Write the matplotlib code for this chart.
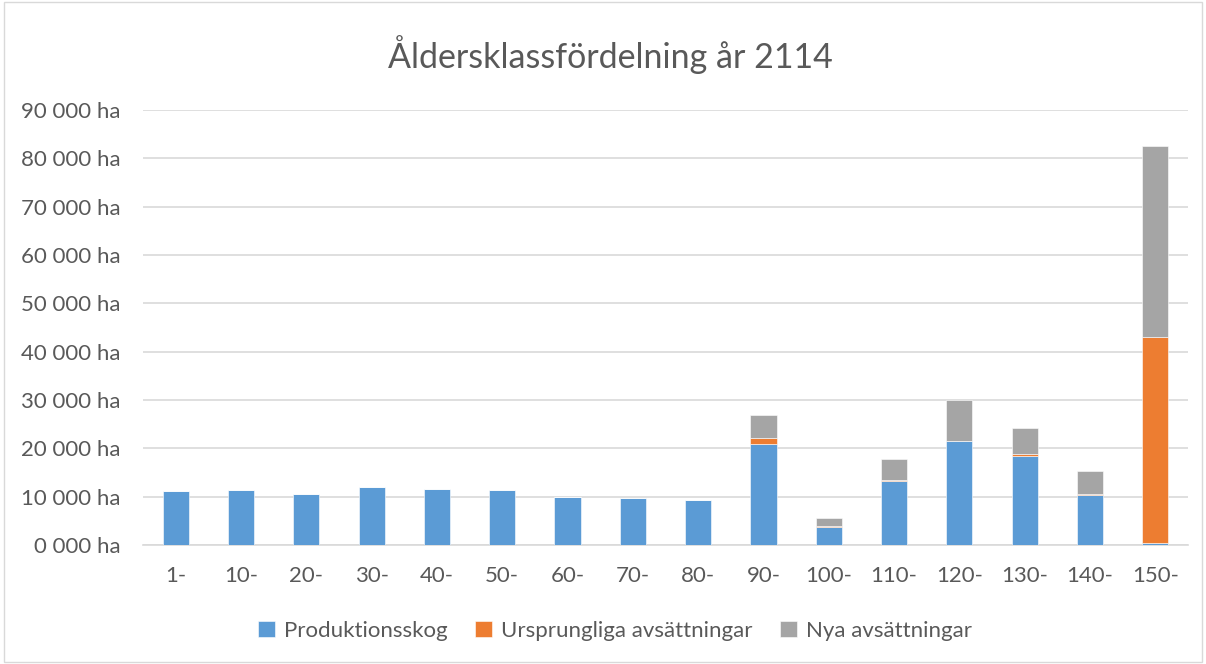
import matplotlib
matplotlib.use("Agg")
import matplotlib.pyplot as plt
from matplotlib.ticker import FuncFormatter, MultipleLocator
from matplotlib.patches import Rectangle
import numpy as np

categories = ["1-", "10-", "20-", "30-", "40-", "50-", "60-", "70-", "80-",
              "90-", "100-", "110-", "120-", "130-", "140-", "150-"]
produktion = [11100, 11400, 10500, 11900, 11600, 11300, 9900, 9800, 9400,
              20900, 3800, 13300, 21500, 18500, 10300, 400]
ursprungliga = [0, 0, 0, 0, 0, 0, 0, 0, 0,
                1300, 200, 200, 100, 300, 300, 42600]
nya = [0, 0, 0, 0, 0, 0, 0, 0, 0,
       4700, 1600, 4300, 8500, 5400, 4800, 39500]
series_names = ["Produktionsskog", "Ursprungliga avsättningar", "Nya avsättningar"]
colors = ["#5B9BD5", "#ED7D31", "#A5A5A5"]

plt.rcParams['font.family'] = ['Lato', 'DejaVu Sans']

fig = plt.figure(figsize=(12.06, 6.64), dpi=100)
ax = fig.add_axes([143/1206, 1-545/664, (1188-143)/1206, (545-110)/664])

x = np.arange(len(categories))
w = 0.4
p = np.array(produktion)
u = np.array(ursprungliga)
n = np.array(nya)
ax.bar(x, p, w, color=colors[0], label=series_names[0], edgecolor="white", linewidth=0.4, zorder=3)
ax.bar(x, u, w, bottom=p, color=colors[1], label=series_names[1], edgecolor="white", linewidth=0.4, zorder=3)
ax.bar(x, n, w, bottom=p + u, color=colors[2], label=series_names[2], edgecolor="white", linewidth=0.4, zorder=3)

ax.set_xlim(-0.5, len(categories) - 0.5)
ax.set_ylim(0, 90000)
ax.yaxis.set_major_locator(MultipleLocator(10000))
ax.yaxis.set_major_formatter(FuncFormatter(lambda v, pos: f"{int(round(v/1000))} 000 ha"))
ax.set_xticks(x)
ax.set_xticklabels(categories)
ax.grid(axis="y", color="#d9d9d9", linewidth=1.2, zorder=0)
for s in ["top", "right", "left"]:
    ax.spines[s].set_visible(False)
ax.spines["bottom"].set_color("#d9d9d9")
ax.spines["bottom"].set_linewidth(1.2)
ax.tick_params(axis="both", length=0, labelsize=16, colors="#595959")
ax.tick_params(axis="x", pad=15)
ax.tick_params(axis="y", pad=16)

fig.text(0.506, 1-55/664, "Åldersklassfördelning år 2114", ha="center", va="center",
         fontsize=24.5, color="#595959")

leg = fig.legend(loc="center", bbox_to_anchor=(0.51, 1-631/664), ncol=3, frameon=False,
                 fontsize=16, handlelength=0.75, handleheight=0.75, columnspacing=1.25,
                 handletextpad=0.4)
for t in leg.get_texts():
    t.set_color("#595959")

fig.patches.append(Rectangle((0.003, 0.003), 0.994, 0.994, transform=fig.transFigure,
                             fill=False, edgecolor="#d9d9d9", linewidth=1))

fig.savefig("out.png", dpi=100, facecolor="white")
